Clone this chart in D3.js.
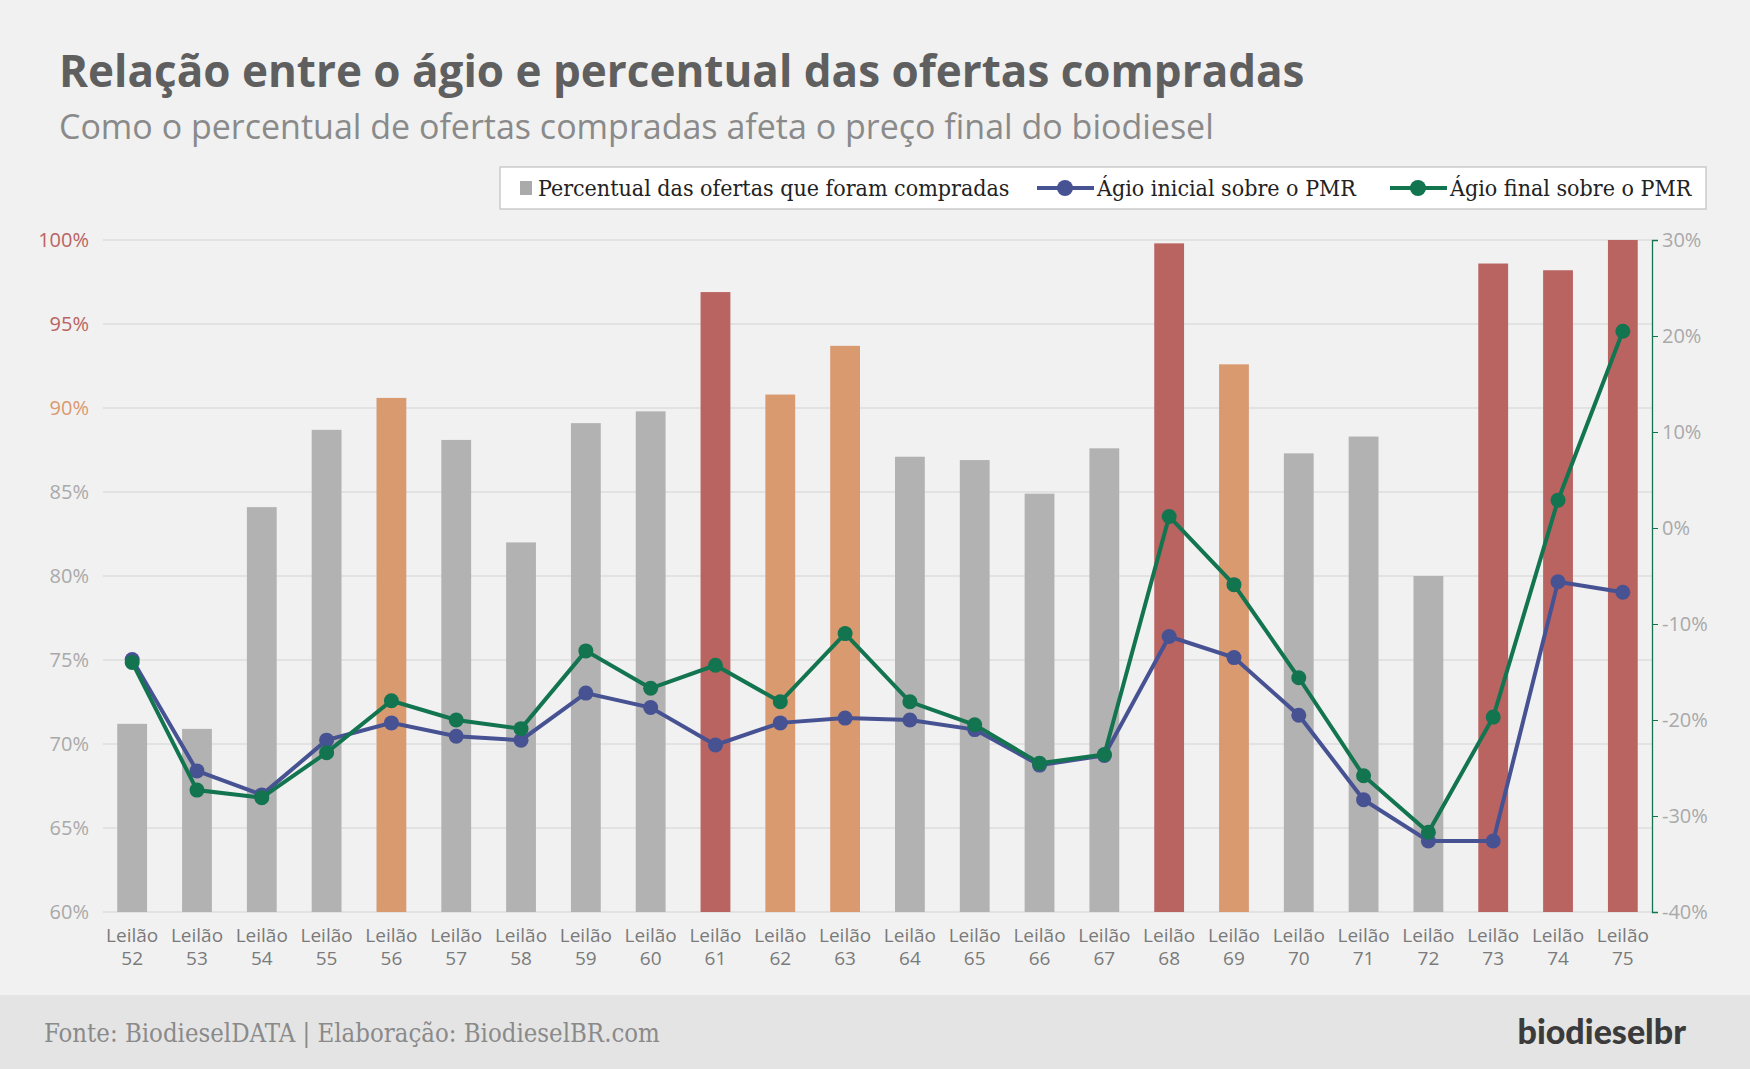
<!DOCTYPE html>
<html><head><meta charset="utf-8">
<script src="https://cdn.jsdelivr.net/npm/d3@7"></script>
<style>body{margin:0;background:#f1f1f1}svg{display:block}</style>
</head><body>
<script>
const categories = d3.range(52,76).map(String);
const percentComprado = [71.2,70.9,84.1,88.7,90.6,88.1,82.0,89.1,89.8,96.9,90.8,93.7,87.1,86.9,84.9,87.6,99.8,92.6,87.3,88.3,80.0,98.6,98.2,100];
const agioInicial = [-13.7,-25.3,-27.8,-22.1,-20.3,-21.7,-22.1,-17.2,-18.7,-22.6,-20.3,-19.8,-20.0,-21.0,-24.7,-23.7,-11.3,-13.5,-19.5,-28.3,-32.6,-32.6,-5.6,-6.7];
const agioFinal = [-14.0,-27.3,-28.1,-23.4,-18.0,-20.0,-20.9,-12.8,-16.7,-14.3,-18.1,-11.0,-18.1,-20.5,-24.5,-23.6,1.2,-5.9,-15.6,-25.8,-31.7,-19.7,2.9,20.5];
const leftTicks = [60,65,70,75,80,85,90,95,100];
const rightTicks = [-40,-30,-20,-10,0,10,20,30];

const W=1750,H=1069, L=103, R=1652, T=240, B=912;
const svg=d3.select("body").append("svg").attr("width",W).attr("height",H);
svg.append("rect").attr("width",W).attr("height",H).attr("fill","#f1f1f1");
svg.append("rect").attr("y",995).attr("width",W).attr("height",74).attr("fill","#e4e4e4");
const sans="'Open Sans', Lato, sans-serif";
const slab="'DejaVu Serif', serif";
svg.append("text").attr("x",59).attr("y",87).text("Relação entre o ágio e percentual das ofertas compradas")
 .attr("font-family",sans).attr("font-weight",700).attr("font-size",44).attr("fill","#5f5f5f");
svg.append("text").attr("x",59).attr("y",139).text("Como o percentual de ofertas compradas afeta o preço final do biodiesel")
 .attr("font-family",sans).attr("font-size",34).attr("fill","#8a8a8a");
svg.append("text").attr("x",44).attr("y",1042).text("Fonte: BiodieselDATA | Elaboração: BiodieselBR.com")
 .attr("font-family",slab).attr("font-size",25.5).attr("fill","#8a8a8a").attr("font-stretch","condensed");
svg.append("text").attr("x",1686).attr("y",1044).attr("text-anchor","end").text("biodieselbr")
 .attr("font-family","Lato, sans-serif").attr("font-weight",900).attr("font-size",34).attr("fill","#3b3b3b");

const x=d3.scaleBand().domain(categories).range([L,R]).paddingInner(0.54).paddingOuter(0.22);
const yL=d3.scaleLinear().domain([60,100]).range([B,T]);
const yR=d3.scaleLinear().domain([-40,30]).range([B,T]);

const g=svg.append("g");
leftTicks.forEach(t=>{
  g.append("line").attr("x1",L).attr("x2",R).attr("y1",yL(t)).attr("y2",yL(t)).attr("stroke","#dcdcdc").attr("stroke-width",1.3);
  g.append("text").attr("x",L-14).attr("y",yL(t)+7).attr("text-anchor","end").text(t+"%")
   .attr("font-family",sans).attr("font-size",20).attr("fill",t>=95?"#b96461":t==90?"#d99a70":"#a9a9a9");
});
const col=v=>v>95?"#b96461":v>90?"#d99a70":"#b2b2b2";
g.selectAll("rect.bar").data(percentComprado).join("rect").attr("class","bar")
 .attr("x",(d,i)=>x(categories[i])).attr("width",x.bandwidth())
 .attr("y",d=>yL(d)).attr("height",d=>B-yL(d)).attr("fill",col);

const ra=svg.append("g").attr("transform",`translate(${R},0)`).call(d3.axisRight(yR).tickValues(rightTicks).tickSize(6).tickFormat(d=>d+"%"));
ra.select(".domain").attr("stroke","#137450").attr("stroke-width",1.3);
ra.selectAll(".tick line").attr("stroke","#137450");
ra.selectAll("text").attr("font-family",sans).attr("font-size",20).attr("fill","#a9a9a9").attr("x",10);

categories.forEach(c=>{
  const cx=x(c)+x.bandwidth()/2;
  const t=svg.append("text").attr("text-anchor","middle").attr("font-family",sans).attr("font-size",19).attr("fill","#7a7a7a");
  t.append("tspan").attr("x",cx).attr("y",942).text("Leilão");
  t.append("tspan").attr("x",cx).attr("y",965).text(c);
});

function series(vals,color){
  const pts=vals.map((v,i)=>[x(categories[i])+x.bandwidth()/2,yR(v)]);
  svg.append("path").attr("d",d3.line()(pts)).attr("fill","none").attr("stroke",color).attr("stroke-width",4);
  svg.selectAll(null).data(pts).join("circle").attr("cx",d=>d[0]).attr("cy",d=>d[1]).attr("r",7.5).attr("fill",color);
}
series(agioInicial,"#475293");
series(agioFinal,"#137450");

const lg=svg.append("g");
lg.append("rect").attr("x",500).attr("y",167).attr("width",1206).attr("height",42).attr("fill","#fff").attr("stroke","#c4c4c4").attr("stroke-width",1.3);
function lt(xx,s){return lg.append("text").attr("x",xx).attr("y",196).text(s).attr("font-stretch","condensed")
  .attr("font-family",slab).attr("font-size",23).attr("fill","#222");}
lg.append("rect").attr("x",520).attr("y",181).attr("width",12).attr("height",14).attr("fill","#aaa");
lt(538,"Percentual das ofertas que foram compradas");
[[1037,"#475293","Ágio inicial sobre o PMR"],[1390,"#137450","Ágio final sobre o PMR"]].forEach(([xx,c,s])=>{
  lg.append("line").attr("x1",xx).attr("x2",xx+57).attr("y1",188).attr("y2",188).attr("stroke",c).attr("stroke-width",4);
  lg.append("circle").attr("cx",xx+28).attr("cy",188).attr("r",8).attr("fill",c);
  lt(xx+60,s);
});
</script>
</body></html>
